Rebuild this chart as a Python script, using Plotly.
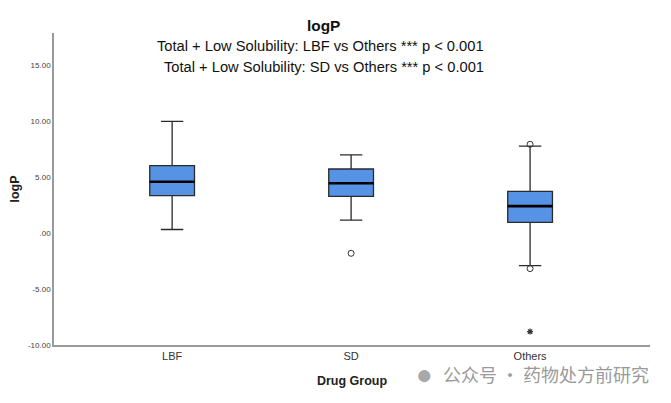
import plotly.graph_objects as go

categories = ["LBF", "SD", "Others"]
q1 = [3.35, 3.29, 0.96]
median = [4.6, 4.46, 2.42]
q3 = [6.04, 5.74, 3.74]
lower_whisker = [0.33, 1.17, -2.9]
upper_whisker = [10.0, 7.0, 7.78]
# mild outliers (circles) and extreme outliers (stars)
outlier_x = ["SD", "Others", "Others"]
outlier_y = [-1.8, 7.95, -3.17]
extreme_x = ["Others"]
extreme_y = [-8.8]

y_tickvals = [-10, -5, 0, 5, 10, 15]
y_ticktext = ["-10.00", "-5.00", ".00", "5.00", "10.00", "15.00"]

title_text = "<b>logP</b>"
subtitle_lines = [
    "Total + Low Solubility: LBF vs Others *** p < 0.001",
    "Total + Low Solubility: SD vs Others *** p < 0.001",
]
watermark = "公众号 · 药物处方前研究"

pos = {c: i for i, c in enumerate(categories)}
box_w = 0.25
fill = "#5693E4"
edge = "#2b2b2b"

# page body adds an 8px offset; work in target-window pixels
OFF = 8
W, H = 671 - OFF, 403 - OFF
plot_left, plot_right, plot_top, plot_bottom = 54, 650, 33, 345
l, r = plot_left - OFF, W - (plot_right - OFF)
t, b = plot_top - OFF, H - (plot_bottom - OFF)
pw, ph = W - l - r, H - t - b


def px(x):
    return (x - OFF - l) / pw


def py(y):
    return (H - b - (y - OFF)) / ph


fig = go.Figure()
fig.add_trace(go.Box(
    x=[pos[c] for c in categories], q1=q1, median=median, q3=q3,
    lowerfence=lower_whisker, upperfence=upper_whisker,
    fillcolor=fill, line=dict(color=edge, width=1.3), width=box_w,
    whiskerwidth=0.5, boxpoints=False, showlegend=False, hoverinfo="skip",
))
for i, c in enumerate(categories):
    fig.add_trace(go.Scatter(
        x=[pos[c] - box_w / 2, pos[c] + box_w / 2], y=[median[i], median[i]],
        mode="lines", line=dict(color="black", width=2.6),
        showlegend=False, hoverinfo="skip",
    ))
fig.add_trace(go.Scatter(
    x=[pos[c] for c in outlier_x], y=outlier_y, mode="markers",
    marker=dict(symbol="circle-open", size=6, color="#333", line=dict(width=1)),
    showlegend=False, hoverinfo="skip",
))
fig.add_trace(go.Scatter(
    x=[pos[c] for c in extreme_x], y=extreme_y, mode="markers",
    marker=dict(symbol="asterisk-open", size=5, color="#333", line=dict(width=1.2)),
    showlegend=False, hoverinfo="skip",
))

fig.update_layout(
    width=W, height=H,
    margin=dict(l=l, r=r, t=t, b=b),
    paper_bgcolor="white", plot_bgcolor="white",
    font=dict(family="Liberation Sans, Arial, sans-serif", color="#222"),
    xaxis=dict(
        range=[-0.66, 2.67], tickvals=[pos[c] for c in categories], ticktext=categories,
        showline=True, linecolor="#999", linewidth=1.5, ticks="", showgrid=False,
        zeroline=False, tickfont=dict(size=11, color="#333"), automargin=False,
        title=dict(text="<b>Drug Group</b>", font=dict(size=12.5, color="#222"), standoff=15),
    ),
    yaxis=dict(
        range=[-10, 17.9], tickvals=y_tickvals, ticktext=y_ticktext,
        showline=True, linecolor="#999", linewidth=1.5, ticks="", showgrid=False,
        zeroline=False, tickfont=dict(size=8, color="#444"), automargin=False,
        title=dict(text="<b>logP</b>", font=dict(size=12.5, color="#222"), standoff=8),
    ),
    annotations=[
        dict(text=title_text, xref="paper", yref="paper", x=px(323), y=py(25),
             xanchor="center", yanchor="middle", showarrow=False,
             font=dict(size=15.4, color="#111")),
        dict(text=subtitle_lines[0], xref="paper", yref="paper", x=px(320.5), y=py(46),
             xanchor="center", yanchor="middle", showarrow=False,
             font=dict(size=14.7, color="#111")),
        dict(text=subtitle_lines[1], xref="paper", yref="paper", x=px(324), y=py(67),
             xanchor="center", yanchor="middle", showarrow=False,
             font=dict(size=14.7, color="#111")),
        dict(text="●", xref="paper", yref="paper", x=px(424), y=py(374),
             xanchor="center", yanchor="middle", showarrow=False,
             font=dict(size=28, color="#a8a8a8")),
        dict(text=watermark, xref="paper", yref="paper", x=px(546), y=py(374),
             xanchor="center", yanchor="middle", showarrow=False,
             font=dict(size=18, color="#9a9a9a", family="Noto Sans CJK SC")),
    ],
)

fig.write_html("out.html")
